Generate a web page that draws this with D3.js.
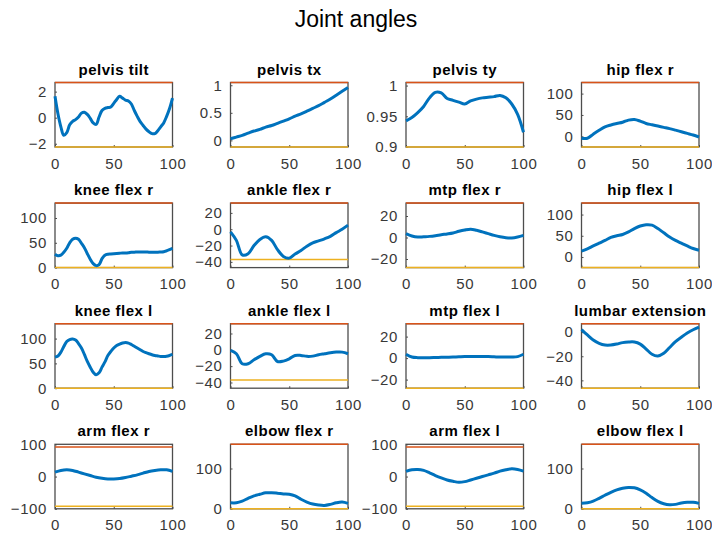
<!DOCTYPE html>
<html>
<head>
<meta charset="utf-8">
<script src="https://cdn.jsdelivr.net/npm/d3@7"></script>
<style>
  body { margin: 0; background: #fff; }
  svg { font-family: "Liberation Sans", Arial, Helvetica, sans-serif; }
</style>
</head>
<body>
<div id="chart"></div>
<script>
// subplot titles, row by row
const titles = [
    "pelvis tilt", "pelvis tx", "pelvis ty", "hip flex r",
    "knee flex r", "ankle flex r", "mtp flex r", "hip flex l",
    "knee flex l", "ankle flex l", "mtp flex l", "lumbar extension",
    "arm flex r", "elbow flex r", "arm flex l", "elbow flex l"
];

// mean curves, sampled evenly over 0..100 % of the cycle
const pelvisTilt = [1.64, 0.3, -0.7, -1.35, -1.15, -0.55, -0.28, -0.15, 0.05, 0.35, 0.42, 0.25, -0.05, -0.4, -0.52, 0.05,
    0.55, 0.72, 0.78, 0.82, 1.1, 1.4, 1.64, 1.5, 1.35, 1.28, 1.05, 0.55, 0.1, -0.3, -0.6, -0.88, -1.08, -1.22, -1.22,
    -1.0, -0.7, -0.4, 0.1, 0.7, 1.5];
const pelvisTx = [0.03, 0.06, 0.09, 0.13, 0.17, 0.2, 0.24, 0.27, 0.31, 0.35, 0.39, 0.44, 0.48, 0.53, 0.58, 0.63, 0.69, 0.75, 0.82, 0.89, 0.96];
const pelvisTy = [0.9426, 0.948, 0.956, 0.966, 0.98, 0.989, 0.988, 0.979, 0.976, 0.973, 0.970, 0.975, 0.978, 0.98, 0.981, 0.982, 0.984, 0.98, 0.97, 0.953, 0.924];
const hipFlexR = [-4.5, -4.5, 5, 14, 22, 26.5, 30, 33, 38, 39.5, 35.6, 30, 27, 24, 21, 18, 14.4, 10.6, 6.8, 3, -1.5];
const kneeFlexR = [27, 24, 25, 31, 39, 50, 57, 59, 57, 49, 40, 28, 17, 8, 4, 6, 18, 25, 27, 27.5, 28, 28.5, 29, 29.5,
    29.5, 30, 31, 31, 31.5, 31.5, 31.5, 31.5, 31, 31, 31, 31, 31.5, 32, 34, 36, 39];
const ankleFlexR = [-3.3, -13.7, -31.5, -30, -20, -12.5, -9.2, -13.7, -25, -33.3, -35.4, -30.4, -26, -20.8, -16.6, -14.2, -11.7, -8.7, -4.2, 0, 5];
const mtpFlexR = [3.6, 1.4, 0.4, 0.7, 1.05, 1.7, 2.6, 3.3, 4.2, 5.8, 7, 7.7, 6.7, 5.2, 3.6, 2, 0.7, -0.2, -0.5, 0.4, 2];
const hipFlexL = [14, 19, 26, 32.5, 39, 46, 50, 53, 59, 67, 73, 76, 75, 67, 57, 47, 39, 32.5, 26, 20, 16];
const kneeFlexL = [62.6, 65, 72.7, 84, 94, 98, 99, 97, 90, 81, 68, 54, 42.4, 32, 27, 31, 42.4, 53, 66, 74, 81, 86, 89, 91,
    92, 91, 88, 84.5, 81, 77.5, 74, 71.5, 69.4, 67.5, 66, 65, 64, 64, 64.6, 66, 68];
const ankleFlexL = [-0.7, -4.8, -17, -17, -12.2, -8, -4.8, -6, -14.3, -13.8, -11, -6.9, -6.9, -8, -7.7, -6, -4.8, -3.6, -2.8, -2.8, -4.8];
const mtpFlexL = [3.6, 1, 0.4, 0.4, 0.4, 0.5, 0.7, 0.8, 1, 1.2, 1.4, 1.4, 1.4, 1.4, 1.4, 1.2, 1, 1, 1, 1.4, 3.6];
const lumbarExt = [2, -2.3, -6.5, -9.3, -10.7, -10.7, -9.9, -8.7, -8.2, -8.2, -9.9, -14, -18.3, -19.7, -17.5, -12.7, -7.9, -4.2, -0.8, 2, 4.2];
const armFlexR = [13.7, 19, 21, 19, 13.7, 8.4, 3.2, -2, -5.3, -7.4, -7.4, -6.3, -3.2, 1, 5.3, 10.5, 15.8, 19, 21, 21, 15.8];
const elbowFlexR = [15, 15, 19, 26, 32, 36, 39.6, 40, 38.7, 37, 36, 32, 23.6, 16.8, 11.8, 9.3, 8.4, 11, 15, 16.8, 13.5];
const armFlexL = [15.8, 21, 22, 19, 11.6, 3.2, -4.2, -10.5, -14.7, -17.9, -15.8, -10.5, -5.3, 0, 5.3, 10.5, 16.8, 21, 24, 22, 16.8];
const elbowFlexL = [13.5, 15, 19, 26, 33.7, 41, 47, 51, 53, 52, 47, 38.7, 27.8, 18.5, 12.6, 10, 11, 14.3, 16, 16, 13.5];

// axis limits, bound lines and tick labels per subplot
const yMin = [-2.25, -0.12, 0.9, -25, 0, -47, -28, -25, 0, -47, -28, -46.5, -100, 0, -100, 0];
const yMax = [2.7, 1.05, 1.005, 126, 130, 32, 32, 127, 130, 32, 32, 7, 100, 160, 100, 160];
const upperBound = [2.7, 1.05, 1.005, 126, 130, 32, 32, 127, 130, 32, 32, 7, 92, 160, 92, 160];
const lowerBound = [-2.25, -0.12, 0.9, -25, 0, -37, -28, -25, 0, -37, -28, -46.5, -92, 0, -92, 0];
const yTicks = [
    [-2, 0, 2], [0, 0.5, 1], [0.9, 0.95, 1], [0, 50, 100],
    [0, 50, 100], [-40, -20, 0, 20], [-20, 0, 20], [0, 50, 100],
    [0, 50, 100], [-40, -20, 0, 20], [-20, 0, 20], [-40, -20, 0],
    [-100, 0, 100], [0, 100], [-100, 0, 100], [0, 100]
];
const xTicks = [0, 50, 100];

const curves = [pelvisTilt, pelvisTx, pelvisTy, hipFlexR, kneeFlexR, ankleFlexR, mtpFlexR, hipFlexL,
    kneeFlexL, ankleFlexL, mtpFlexL, lumbarExt, armFlexR, elbowFlexR, armFlexL, elbowFlexL];

// figure layout
const width = 712, height = 538;
const gridLeft = 55, colStep = 175.5, axW = 117.5;
const gridTop = 82.5, rowStep = 120.6, axH = 64.5;

const svg = d3.select("#chart").append("svg")
    .attr("width", width)
    .attr("height", height);

svg.append("text")
    .attr("x", width / 2)
    .attr("y", 27)
    .attr("text-anchor", "middle")
    .style("font-size", "23px")
    .style("fill", "#000")
    .text("Joint angles");

const x = d3.scaleLinear().domain([0, 100]).range([0, axW]);

curves.forEach((vals, i) => {
    const col = i % 4, row = Math.floor(i / 4);
    const g = svg.append("g")
        .attr("transform", `translate(${gridLeft + col * colStep},${gridTop + row * rowStep})`);

    const y = d3.scaleLinear().domain([yMin[i], yMax[i]]).range([axH, 0]);

    // axes box
    g.append("rect")
        .attr("width", axW)
        .attr("height", axH)
        .attr("fill", "none")
        .attr("stroke", "#4d4d4d")
        .attr("stroke-width", 1.3);

    // y axis
    const ya = g.append("g")
        .call(d3.axisLeft(y).tickValues(yTicks[i]).tickSizeInner(-2).tickSizeOuter(0).tickPadding(8)
            .tickFormat(d => d3.format("~g")(d)));
    ya.select(".domain").remove();

    // x axis
    const xa = g.append("g")
        .attr("transform", `translate(0,${axH})`)
        .call(d3.axisBottom(x).tickValues(xTicks).tickSizeInner(-2).tickSizeOuter(0).tickPadding(11));
    xa.select(".domain").remove();

    g.selectAll(".tick line").attr("stroke", "#4d4d4d");
    g.selectAll(".tick text")
        .attr("fill", "#383838")
        .style("font-size", "15px")
        .style("letter-spacing", "0.6px")
        .style("font-family", "'Liberation Sans', Arial, sans-serif");

    // bound lines
    g.append("line")
        .attr("x1", 0).attr("x2", axW)
        .attr("y1", y(upperBound[i])).attr("y2", y(upperBound[i]))
        .attr("stroke", "#D95319")
        .attr("stroke-width", 1.5);
    g.append("line")
        .attr("x1", 0).attr("x2", axW)
        .attr("y1", y(lowerBound[i])).attr("y2", y(lowerBound[i]))
        .attr("stroke", "#EDB120")
        .attr("stroke-width", 1.5);

    // mean curve
    const step = 100 / (vals.length - 1);
    const line = d3.line()
        .x((d, k) => x(k * step))
        .y(d => y(d))
        .curve(d3.curveCatmullRom.alpha(0.5));

    g.append("path")
        .datum(vals)
        .attr("d", line)
        .attr("fill", "none")
        .attr("stroke", "#0072BD")
        .attr("stroke-width", 3)
        .attr("stroke-linejoin", "round");

    // subplot title
    g.append("text")
        .attr("x", axW / 2)
        .attr("y", -8)
        .attr("text-anchor", "middle")
        .style("font-size", "15px")
        .style("font-weight", "bold")
        .style("letter-spacing", "0.5px")
        .style("fill", "#000")
        .text(titles[i]);
});
</script>
</body>
</html>
